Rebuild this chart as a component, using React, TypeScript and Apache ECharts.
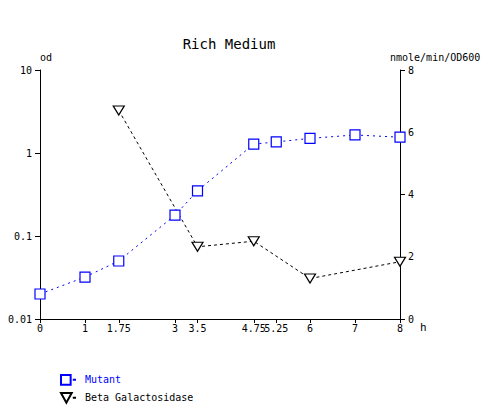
import React, { useEffect, useRef } from "react";
import * as echarts from "echarts";

const hours = [0, 1, 1.75, 3, 3.5, 4.75, 5.25, 6, 7, 8];
const mutantHours = [0, 1, 1.75, 3, 3.5, 4.75, 5.25, 6, 7, 8];
const mutantOD = [0.02, 0.032, 0.05, 0.178, 0.35, 1.28, 1.36, 1.5, 1.65, 1.55];
const betaHours = [1.75, 3.5, 4.75, 6, 8];
const betaActivity = [6.7, 2.32, 2.5, 1.3, 1.84];
const leftTicks = ["0.01", "0.1", "1", "10"];

const FONT = "DejaVu Sans Mono";

export default function App() {
  const ref = useRef<HTMLDivElement>(null);
  useEffect(() => {
    if (!ref.current) return;
    const chart = echarts.init(ref.current, null, { renderer: "svg" });
    const labelStyle = { color: "#000", fontFamily: FONT, fontSize: 10 };
    const legendBase = {
      orient: "vertical",
      left: 60,
      padding: 0,
      itemWidth: 15,
      itemHeight: 10,
      textStyle: { fontFamily: FONT, fontSize: 10, padding: [0, 0, 0, 4] },
    };
    chart.setOption({
      animation: false,
      backgroundColor: "#fff",
      title: {
        text: "Rich Medium",
        left: 224,
        top: 32,
        textAlign: "center",
        textStyle: { fontFamily: FONT, fontSize: 14, fontWeight: "normal", color: "#000" },
      },
      grid: { left: 40, top: 70, width: 360, height: 249 },
      legend: [
        {
          ...legendBase,
          top: 374,
          data: [
            {
              name: "Mutant",
              icon: "path://M0,0H9V9H0Z M11,4.5H14",
              textStyle: { color: "#0000ff" },
            },
          ],
        },
        {
          ...legendBase,
          top: 392,
          data: [
            {
              name: "Beta Galactosidase",
              icon: "path://M0,0H10L5,9Z M11,4.5H14",
              textStyle: { color: "#000" },
            },
          ],
        },
      ],
      xAxis: {
        type: "value",
        min: 0,
        max: 8,
        name: "h",
        nameLocation: "end",
        nameGap: 19,
        nameTextStyle: { ...labelStyle, fontSize: 11, verticalAlign: "top", padding: [3, 0, 0, 0] },
        axisLine: { show: true, lineStyle: { color: "#000" } },
        axisTick: { show: true, length: 4, customValues: hours, lineStyle: { color: "#000" } },
        axisLabel: { ...labelStyle, margin: 4, customValues: hours, hideOverlap: false },
        splitLine: { show: false },
      },
      yAxis: [
        {
          type: "log",
          logBase: 10,
          min: 0.01,
          max: 10,
          position: "left",
          name: "od",
          nameLocation: "end",
          nameGap: 8,
          nameTextStyle: { ...labelStyle, align: "left" },
          axisLine: { show: true, lineStyle: { color: "#000" } },
          axisTick: { show: true, length: 5, lineStyle: { color: "#000" } },
          axisLabel: {
            ...labelStyle,
            margin: 8,
            formatter: (v: number) => {
              const idx = Math.round(Math.log10(v)) + 2;
              return leftTicks[idx] ?? String(v);
            },
          },
          splitLine: { show: false },
          minorTick: { show: false },
        },
        {
          type: "value",
          min: 0,
          max: 8,
          interval: 2,
          position: "right",
          name: "nmole/min/OD600",
          nameLocation: "end",
          nameGap: 8,
          nameTextStyle: { ...labelStyle, align: "left", padding: [0, 0, 0, -10] },
          axisLine: { show: true, lineStyle: { color: "#000" } },
          axisTick: { show: true, length: 5, lineStyle: { color: "#000" } },
          axisLabel: { ...labelStyle, margin: 8 },
          splitLine: { show: false },
        },
      ],
      series: [
        {
          name: "Mutant",
          type: "line",
          yAxisIndex: 0,
          data: mutantHours.map((h, i) => [h, mutantOD[i]]),
          symbol: "rect",
          symbolSize: 10,
          itemStyle: { color: "#fff", borderColor: "#0000ff", borderWidth: 1.2 },
          lineStyle: { color: "#0000ff", width: 1, type: [2, 4] },
        },
        {
          name: "Beta Galactosidase",
          type: "line",
          yAxisIndex: 1,
          data: betaHours.map((h, i) => [h, betaActivity[i]]),
          symbol: "triangle",
          symbolRotate: 180,
          symbolSize: [11, 9],
          itemStyle: { color: "#fff", borderColor: "#000", borderWidth: 1.2 },
          lineStyle: { color: "#000", width: 1, type: [3, 3] },
        },
      ],
    });
    return () => chart.dispose();
  }, []);
  return (
    <div
      ref={ref}
      style={{ position: "absolute", left: 0, top: 0, width: 490, height: 405 }}
    />
  );
}
